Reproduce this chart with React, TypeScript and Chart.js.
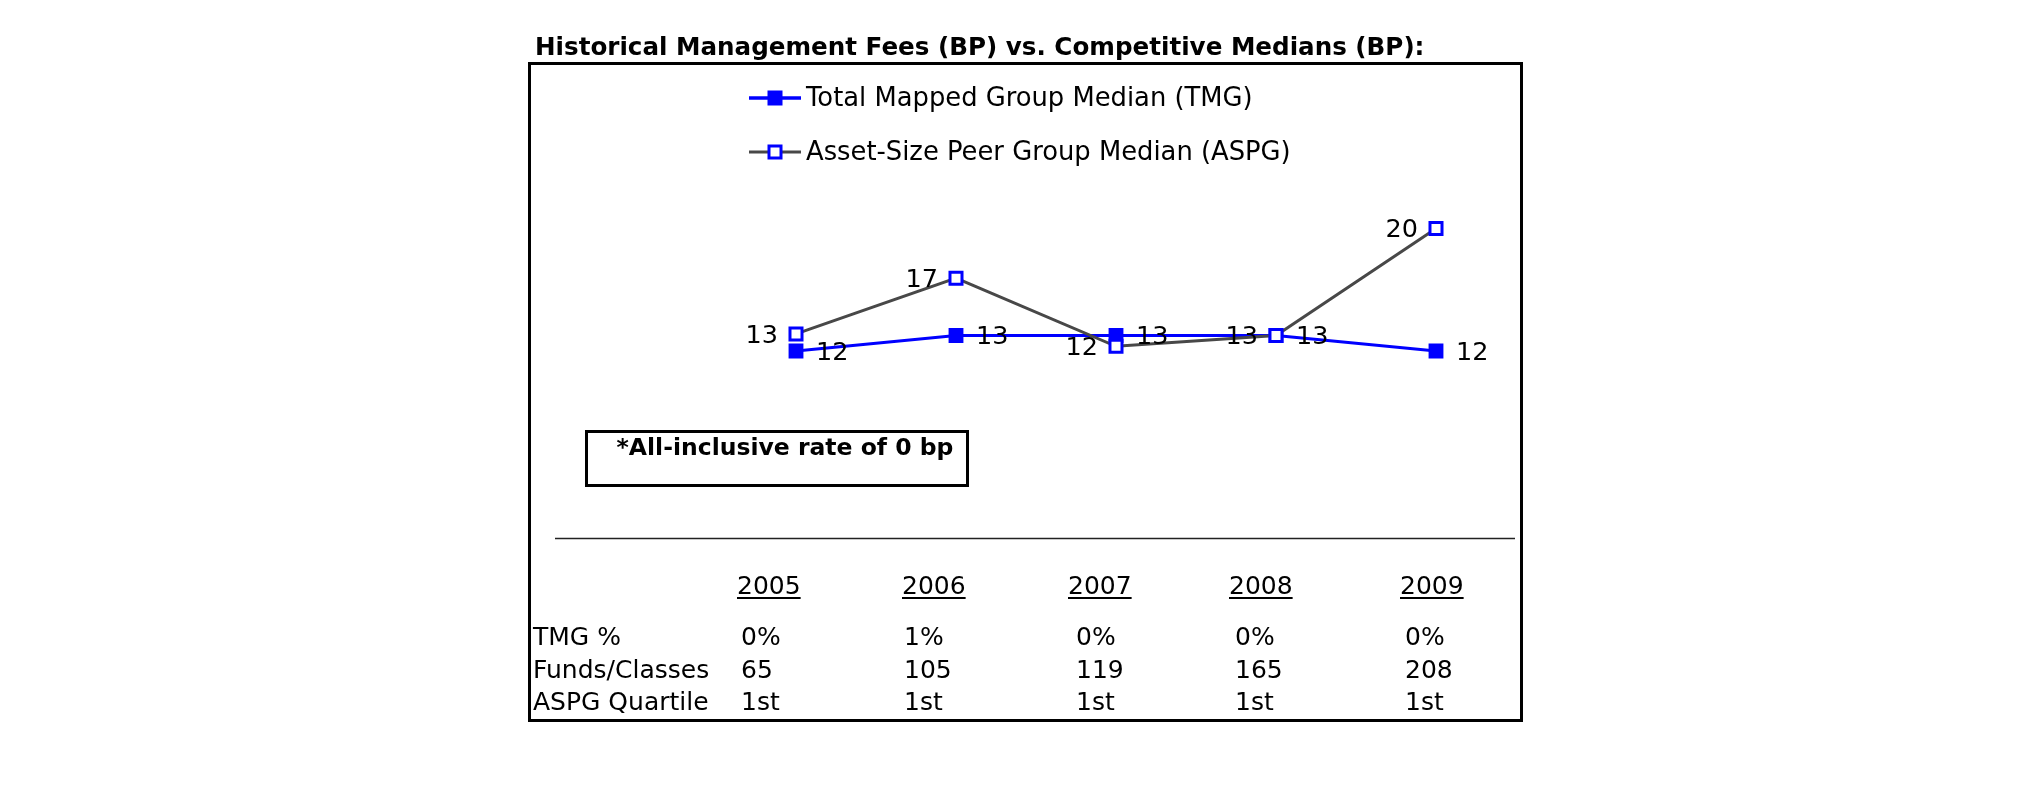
import React, { useEffect, useRef } from 'react';
import { Chart, registerables } from 'chart.js';

Chart.register(...registerables);

const years = ['2005', '2006', '2007', '2008', '2009'];
const tmgValues = [12.0, 13.0, 13.0, 13.0, 12.0];
const aspgValues = [13.1, 16.7, 12.3, 13.0, 19.9];
const tmgPct = ['0%', '1%', '0%', '0%', '0%'];
const fundsClasses = ['65', '105', '119', '165', '208'];
const aspgQuartile = ['1st', '1st', '1st', '1st', '1st'];
const rowLabels = ['TMG %', 'Funds/Classes', 'ASPG Quartile'];
const seriesNames = ['Total Mapped Group Median (TMG)', 'Asset-Size Peer Group Median (ASPG)'];
const titleText = 'Historical Management Fees (BP) vs. Competitive Medians (BP):';
const noteText = '*All-inclusive rate of 0 bp';

const FONT = '"DejaVu Sans", Verdana, sans-serif';
const BLUE = '#0000ff';
const GRAY = '#484848';

const yearLeft = [737, 902, 1068, 1229, 1400];
const valueLeft = [741, 904, 1076, 1235, 1405];

function drawMarker(ctx: CanvasRenderingContext2D, x: number, y: number, filled: boolean) {
  if (filled) {
    ctx.fillStyle = BLUE;
    ctx.fillRect(x - 7.5, y - 7.5, 15, 15);
  } else {
    ctx.fillStyle = '#ffffff';
    ctx.fillRect(x - 6, y - 6, 12, 12);
    ctx.strokeStyle = BLUE;
    ctx.lineWidth = 3;
    ctx.strokeRect(x - 6, y - 6, 12, 12);
  }
}

const decor = {
  id: 'decor',
  afterDatasetsDraw(chart: any) {
    const ctx: CanvasRenderingContext2D = chart.ctx;
    ctx.save();
    ctx.fillStyle = '#000';
    ctx.font = `25.5px ${FONT}`;
    ctx.textBaseline = 'middle';
    const tmgMeta = chart.getDatasetMeta(0);
    tmgMeta.data.forEach((pt: any, i: number) => {
      ctx.textAlign = 'left';
      ctx.fillText(String(Math.round(tmgValues[i])), pt.x + 20, pt.y + 2);
    });
    const aspgMeta = chart.getDatasetMeta(1);
    aspgMeta.data.forEach((pt: any, i: number) => {
      ctx.textAlign = 'right';
      ctx.fillText(String(Math.round(aspgValues[i])), pt.x - 18, pt.y + 2);
    });
    ctx.restore();
  },
  afterDraw(chart: any) {
    const ctx: CanvasRenderingContext2D = chart.ctx;
    ctx.save();
    // Title
    ctx.fillStyle = '#000';
    ctx.font = `bold 24.6px ${FONT}`;
    ctx.textAlign = 'left';
    ctx.textBaseline = 'alphabetic';
    ctx.fillText(titleText, 535, 55);

    // Outer box
    ctx.strokeStyle = '#000';
    ctx.lineWidth = 3;
    ctx.strokeRect(529.5, 63.5, 992, 657);

    // Legend
    const legendY = [98, 152];
    ctx.lineWidth = 3.5;
    ctx.strokeStyle = BLUE;
    ctx.beginPath();
    ctx.moveTo(749, legendY[0]);
    ctx.lineTo(801, legendY[0]);
    ctx.stroke();
    drawMarker(ctx, 775, legendY[0], true);
    ctx.strokeStyle = GRAY;
    ctx.lineWidth = 3;
    ctx.beginPath();
    ctx.moveTo(749, legendY[1]);
    ctx.lineTo(801, legendY[1]);
    ctx.stroke();
    drawMarker(ctx, 775, legendY[1], false);
    ctx.fillStyle = '#000';
    ctx.font = `25.8px ${FONT}`;
    ctx.textBaseline = 'middle';
    ctx.textAlign = 'left';
    ctx.fillText(seriesNames[0], 806, legendY[0] + 1);
    ctx.fillText(seriesNames[1], 806, legendY[1] + 1);

    // Note box
    ctx.strokeStyle = '#000';
    ctx.lineWidth = 3;
    ctx.strokeRect(586.5, 431.5, 381, 54);
    ctx.font = `bold 23.5px ${FONT}`;
    ctx.textAlign = 'center';
    ctx.textBaseline = 'middle';
    ctx.fillText(noteText, 785, 449);

    // Separator
    ctx.strokeStyle = '#222';
    ctx.lineWidth = 1.5;
    ctx.beginPath();
    ctx.moveTo(555, 538.5);
    ctx.lineTo(1515, 538.5);
    ctx.stroke();

    // Table
    ctx.font = `25px ${FONT}`;
    ctx.textAlign = 'left';
    ctx.textBaseline = 'alphabetic';
    years.forEach((yr, i) => {
      ctx.fillText(yr, yearLeft[i], 594);
      const w = ctx.measureText(yr).width;
      ctx.fillRect(yearLeft[i], 597, w, 2);
    });
    const rows = [tmgPct, fundsClasses, aspgQuartile];
    const rowBase = [645, 678, 710];
    rows.forEach((row, r) => {
      ctx.fillText(rowLabels[r], 533, rowBase[r]);
      row.forEach((v, i) => ctx.fillText(v, valueLeft[i], rowBase[r]));
    });
    ctx.restore();
  },
};

export default function App() {
  const canvasRef = useRef<HTMLCanvasElement | null>(null);
  useEffect(() => {
    const canvas = canvasRef.current;
    if (!canvas) return;
    const chart = new Chart(canvas, {
      type: 'line',
      data: {
        labels: years,
        datasets: [
          {
            label: seriesNames[0],
            data: tmgValues,
            borderColor: BLUE,
            backgroundColor: BLUE,
            borderWidth: 3,
            pointStyle: 'rect',
            pointRadius: 10.5,
            pointBackgroundColor: BLUE,
            pointBorderColor: BLUE,
            pointBorderWidth: 0,
            tension: 0,
            order: 1,
          },
          {
            label: seriesNames[1],
            data: aspgValues,
            borderColor: GRAY,
            backgroundColor: '#ffffff',
            borderWidth: 3,
            pointStyle: 'rect',
            pointRadius: 8.5,
            pointBackgroundColor: '#ffffff',
            pointBorderColor: BLUE,
            pointBorderWidth: 3,
            tension: 0,
            order: 0,
          },
        ],
      },
      options: {
        animation: false,
        responsive: true,
        maintainAspectRatio: false,
        events: [],
        layout: { padding: { left: 796, right: 589, top: 196, bottom: 393 } },
        scales: {
          x: { display: false, offset: false },
          y: { display: false, min: 8, max: 22 },
        },
        plugins: {
          legend: { display: false },
          title: { display: false },
          tooltip: { enabled: false },
        },
      },
      plugins: [decor],
    });
    return () => chart.destroy();
  }, []);

  return (
    <div style={{ position: 'absolute', left: 0, top: 0, width: 2025, height: 806, background: '#fff' }}>
      <canvas ref={canvasRef} />
    </div>
  );
}
